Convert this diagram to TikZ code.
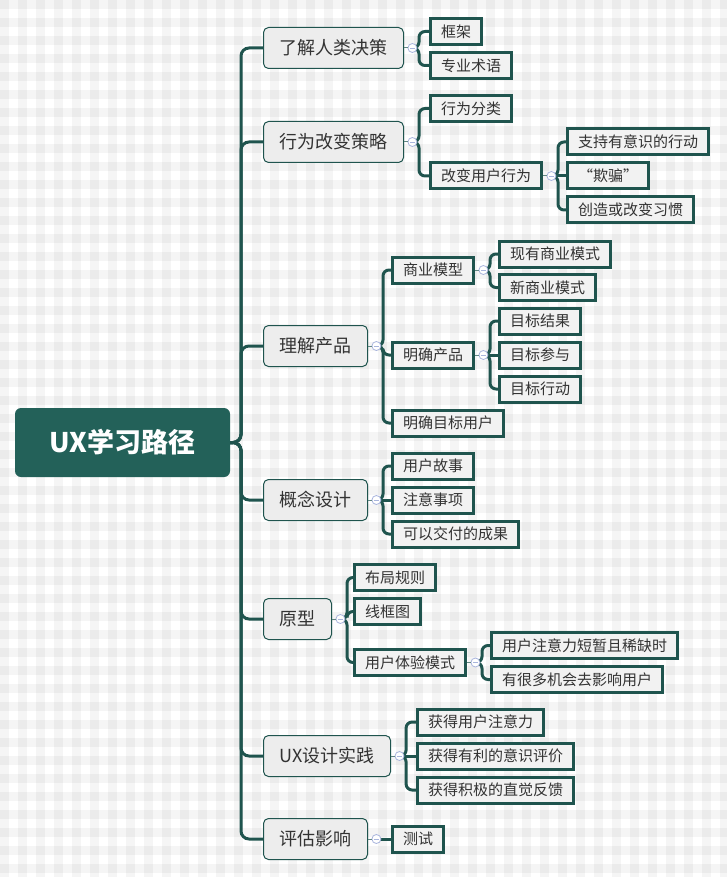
\documentclass[tikz,border=0pt]{standalone}
\usepackage{fontspec}
\setmainfont{Noto Sans CJK SC}
\usetikzlibrary{positioning}

\definecolor{pine}{HTML}{1F544E}
\definecolor{rootfill}{HTML}{236159}
\definecolor{topicfill}{HTML}{EDEDED}
\definecolor{leaffill}{HTML}{F2F2F2}
\definecolor{inktext}{HTML}{333333}
\definecolor{foldline}{HTML}{A9B5DD}

\tikzset{
rootbox/.style={fill=rootfill, text=white, rounded corners=6pt, minimum width=215pt,
  minimum height=69pt, font=\fontsize{27}{32}\selectfont\bfseries},
topic/.style={anchor=west, draw=pine, line width=1pt, fill=topicfill, rounded corners=5pt,
  text=inktext, inner xsep=16pt, inner ysep=0pt, minimum height=41pt,
  font=\fontsize{18}{22}\selectfont},
leaf/.style={anchor=west, draw=pine, line width=3pt, fill=leaffill, text=inktext,
  inner xsep=10.5pt, inner ysep=0pt, minimum height=26pt,
  font=\fontsize{15}{18}\selectfont},
fold/.style={circle, draw=foldline, fill=white, line width=0.8pt, minimum size=9pt,
  inner sep=0pt,
  path picture={\draw[foldline, line width=0.8pt]
    ([xshift=-2.2pt]path picture bounding box.center) -- ([xshift=2.2pt]path picture bounding box.center);}},
trunk/.style={draw=pine, line width=3pt, rounded corners=8pt},
link/.style={draw=pine, line width=3pt, rounded corners=6pt},
}

\begin{document}
\begin{tikzpicture}[x=1pt, y=-1pt]
\useasboundingbox (0,0) rectangle (727,877);

% chequered backdrop
\fill[white] (0,0) rectangle (727,877);
\foreach \i in {0,...,40}
  \fill[black, fill opacity=0.04] (18*\i,0) rectangle ++(9,877);
\foreach \j in {0,...,48}
  \fill[black, fill opacity=0.04] (0,18*\j) rectangle ++(727,9);

% root
\node[rootbox] (root) at (122.5,442.5) {UX学习路径};

% main topics
\foreach \name/\y/\txt in {decide/48/了解人类决策, strategy/142/行为改变策略,
  product/346/理解产品, concept/500/概念设计, proto/619/原型,
  practice/756/UX设计实践, impact/839/评估影响}
  \node[topic] (\name) at (263,\y) {\txt};

% second level
\node[leaf] (framework) at (429,31.5) {框架};
\node[leaf] (jargon) at (429,65.5) {专业术语};
\node[leaf] (classify) at (429,108.5) {行为分类};
\node[leaf] (change) at (429,176) {改变用户行为};
\node[leaf] (bizmodel) at (391,270) {商业模型};
\node[leaf] (clarify) at (391,355) {明确产品};
\node[leaf] (target) at (391,423) {明确目标用户};
\node[leaf] (story) at (391,466) {用户故事};
\node[leaf] (notes) at (391,500) {注意事项};
\node[leaf] (deliver) at (391,534) {可以交付的成果};
\node[leaf] (layout) at (353,577.5) {布局规则};
\node[leaf] (wire) at (353,611.5) {线框图};
\node[leaf] (uxpat) at (353,662.5) {用户体验模式};
\node[leaf] (attn) at (416,722) {获得用户注意力};
\node[leaf] (evalpos) at (416,756) {获得有利的意识评价};
\node[leaf] (feedback) at (416,790) {获得积极的直觉反馈};
\node[leaf] (testing) at (391,839) {测试};

% third level
\node[leaf] (support) at (566,142) {支持有意识的行动};
\node[leaf] (trick) at (566,176) {“欺骗”};
\node[leaf] (habit) at (566,210) {创造或改变习惯};
\node[leaf] (curbiz) at (498,254) {现有商业模式};
\node[leaf] (newbiz) at (498,287.5) {新商业模式};
\node[leaf] (goalres) at (498,321) {目标结果};
\node[leaf] (goaleng) at (498,355) {目标参与};
\node[leaf] (goalact) at (498,389) {目标行动};
\node[leaf] (scarce) at (490,645.5) {用户注意力短暂且稀缺时};
\node[leaf] (influence) at (490,679.5) {有很多机会去影响用户};

% trunk
\foreach \name in {decide,strategy,product,concept,proto,practice,impact}
  \draw[trunk] (root.east) -- (241,442.5) |- (\name.west);

% branches with a bend
\foreach \p/\c in {decide/framework, decide/jargon, strategy/classify, strategy/change,
  change/support, change/habit,
  product/bizmodel, product/clarify, product/target,
  bizmodel/curbiz, bizmodel/newbiz,
  clarify/goalres, clarify/goalact,
  concept/story, concept/deliver,
  proto/layout, proto/wire, proto/uxpat,
  uxpat/scarce, uxpat/influence,
  practice/attn, practice/feedback}
  \draw[link] ([xshift=8pt]\p.east) -- ++(7,0) |- (\c.west);

% straight branches
\foreach \p/\c in {change/trick, clarify/goaleng, concept/notes, practice/evalpos, impact/testing}
  \draw[link] ([xshift=8pt]\p.east) -- (\c.west);

% fold markers
\foreach \name in {decide,strategy,change,product,bizmodel,clarify,concept,proto,uxpat,practice,impact} {
  \node[fold, right=3.5pt of \name] (f-\name) {};
  \draw[pine!70, line width=1pt] (\name.east) -- (f-\name.west);
}
\end{tikzpicture}
\end{document}
